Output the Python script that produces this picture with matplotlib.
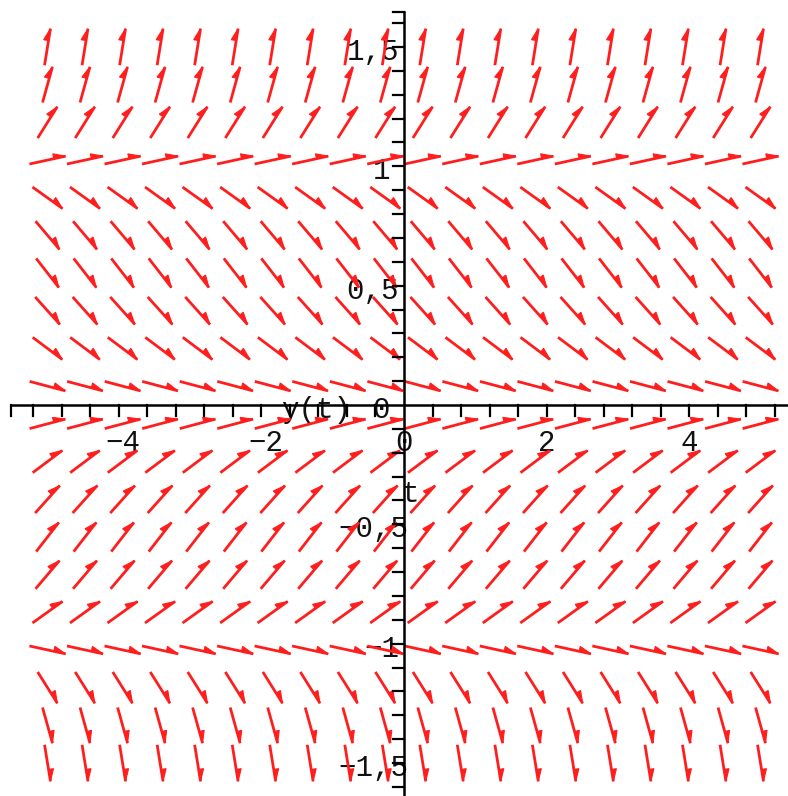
import numpy as np
import matplotlib.pyplot as plt
from matplotlib.patches import Polygon

# direction field data
t_cols = [-5.0, -4.474, -3.947, -3.421, -2.895, -2.368, -1.842, -1.316, -0.789, -0.263,
          0.263, 0.789, 1.316, 1.842, 2.368, 2.895, 3.421, 3.947, 4.474, 5.0]
y_rows = [-1.5, -1.342, -1.184, -1.026, -0.868, -0.711, -0.553, -0.395, -0.237, -0.079,
          0.079, 0.237, 0.395, 0.553, 0.711, 0.868, 1.026, 1.184, 1.342, 1.5]
# slope dy/dt of every arrow in a row (same for all columns)
row_slopes = [-1.85, -1.075, -0.476, -0.065, 0.214, 0.352, 0.384, 0.333, 0.224, 0.079,
              -0.079, -0.224, -0.333, -0.384, -0.352, -0.214, 0.065, 0.476, 1.075, 1.85]

x_tick_vals = [-4, -2, 0, 2, 4]
x_tick_text = ["\u22124", "\u22122", "0", "2", "4"]
y_tick_vals = [-1.5, -1, -0.5, 0, 0.5, 1, 1.5]
y_tick_text = ["\u22121,5", "\u22121", "\u22120,5", "0", "0,5", "1", "1,5"]

RED = '#ff1e1e'
FONT = ['Liberation Mono', 'DejaVu Sans Mono']

# pixel geometry of the original picture
W, H = 788, 796
X0, Y0 = 404, 405      # pixel of the origin (from left / from top)
SX, SY = 71.3, 238.7   # pixels per unit
L = 37.0               # arrow length in px
HL, HW = 12.0, 5.0     # barb length / width in px

fig = plt.figure(figsize=(W / 100, H / 100), dpi=100)
ax = fig.add_axes([0, 0, 1, 1])
ax.set_xlim(-X0 / SX, (W - X0) / SX)
ax.set_ylim(-(H - Y0) / SY, Y0 / SY)
ax.axis('off')

# arrows
for y, s in zip(y_rows, row_slopes):
    for t in t_cols:
        ux, uy = SX, SY * s
        n = np.hypot(ux, uy)
        ux, uy = ux / n, uy / n
        tail = (t - ux * L / 2 / SX, y - uy * L / 2 / SY)
        tip = (t + ux * L / 2 / SX, y + uy * L / 2 / SY)
        ax.plot([tail[0], tip[0]], [tail[1], tip[1]], color=RED, lw=2.0,
                solid_capstyle='butt', zorder=2)
        # one sided head on the left of the direction
        bx, by = tip[0] - ux * HL / SX, tip[1] - uy * HL / SY
        wx, wy = bx - uy * HW / SX, by + ux * HW / SY
        ax.add_patch(Polygon([tip, (bx, by), (wx, wy)], closed=True,
                             facecolor=RED, edgecolor=RED, lw=0.8, zorder=2))

# axes lines
ax.plot([(11 - X0) / SX, (W - X0) / SX], [0, 0], color='black', lw=1.8, zorder=3)
ax.plot([0, 0], [(Y0 - 11.7) / SY, -(H - Y0) / SY], color='black', lw=1.8, zorder=3)

tk = 11.0
xt = list(np.round(np.arange(-5.2, 5.21, 0.4), 1)) + [(11 - X0) / SX]
for v in xt:
    if abs(v) < 1e-6:
        continue
    ax.plot([v, v], [0, -tk / SY], color='black', lw=1.6, zorder=3)
yt = list(np.round(np.arange(-1.6, 1.61, 0.1), 1)) + [(Y0 - 11.7) / SY]
for v in yt:
    if abs(v) < 1e-6:
        continue
    ax.plot([0, -tk / SX], [v, v], color='black', lw=1.6, zorder=3)

# tick labels
for v, s in zip(x_tick_vals, x_tick_text):
    px = X0 + v * SX + (4 if v < 0 else 0)
    ax.text((px - X0) / SX, -(451 - Y0) / SY, s, ha='center', va='baseline',
            family=FONT, fontsize=21, color='#111111', zorder=1)
for v, s in zip(y_tick_vals, y_tick_text):
    px = 381.5 if len(s) <= 2 else 373
    py = Y0 - v * SY + 13
    ax.text((px - X0) / SX, (Y0 - py) / SY, s, ha='center', va='baseline',
            family=FONT, fontsize=21, color='#111111', zorder=1)

# axis labels
ax.text((316 - X0) / SX, (Y0 - 418) / SY, "y(t)", ha='center', va='baseline',
        family=FONT, fontsize=21, color='#111111', zorder=1)
ax.text((410 - X0) / SX, (Y0 - 502) / SY, "t", ha='center', va='baseline',
        family=FONT, fontsize=21, color='#111111', zorder=1)

plt.savefig('out.png', dpi=100)
